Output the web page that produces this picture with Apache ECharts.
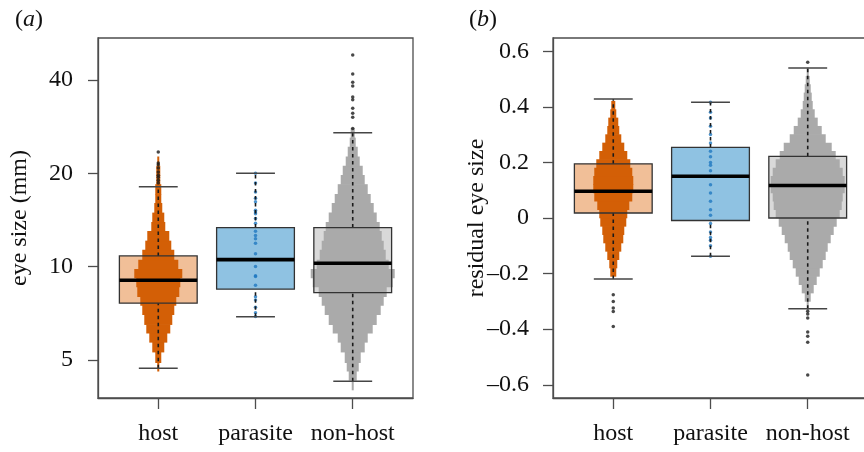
<!DOCTYPE html>
<html><head><meta charset="utf-8">
<script src="https://cdn.jsdelivr.net/npm/echarts@6/dist/echarts.min.js"></script>
<style>html,body{margin:0;padding:0;background:#fff}#c{width:864px;height:452px}</style>
</head><body><div id="c"></div>
<script>
// ---------------- data ----------------
const categories = ['host', 'parasite', 'non-host'];
const ticksA = [5, 10, 20, 40];
const ticksB = [-0.6, -0.4, -0.2, 0, 0.2, 0.4, 0.6];
const rangeA = [3.77, 54.6];
const rangeB = [-0.6475, 0.6475];

// box stats: [lower whisker, Q1, median, Q3, upper whisker]
const hostBoxA = [4.70, 7.62, 9.04, 10.83, 18.1];
const parasiteBoxA = [6.89, 8.46, 10.53, 13.36, 20.0];
const nonHostBoxA = [4.27, 8.24, 10.25, 13.36, 27.0];
const hostBoxB = [-0.219, 0.018, 0.096, 0.195, 0.428];
const parasiteBoxB = [-0.138, -0.009, 0.150, 0.254, 0.416];
const nonHostBoxB = [-0.326, 0.0, 0.117, 0.222, 0.540];

// outliers
const hostOutA = [23.4, 21.6, 21.3, 20.8, 20.2, 19.7, 19.4, 19.0, 18.6];
const nonHostOutA = [48.1, 41.8, 39.3, 38.2, 35.2, 34.5, 32.4, 31.2, 30.3, 27.9];
const hostOutB = [-0.276, -0.300, -0.324, -0.336, -0.390];
const nonHostOutB = [0.560, -0.335, -0.345, -0.360, -0.410, -0.425, -0.447, -0.565];

// parasite individual points
const parasiteA = [20.0, 18.6, 17.4, 16.6, 16.2, 15.2, 15.0, 14.8, 14.3, 13.8, 13.0, 12.6, 12.3, 11.9, 11.0, 10.0, 9.35, 9.3, 8.7, 8.0, 7.8, 7.4, 7.1, 6.9];
const parasiteB = [0.416, 0.38, 0.36, 0.33, 0.30, 0.27, 0.24, 0.22, 0.20, 0.19, 0.17, 0.15, 0.12, 0.09, 0.06, 0.03, 0.01, -0.02, -0.05, -0.07, -0.08, -0.10, -0.138];

// beeswarm rows: bin edges and number of points per row
const rowEdgesA = [4.0, 4.3, 4.6, 4.9, 5.3, 5.7, 6.1, 6.5, 7.0, 7.5, 8.0, 8.6, 9.2, 9.8, 10.5, 11.3, 12.1, 13.0, 13.9, 14.9, 16.0, 17.1, 18.4, 19.7, 21.1, 22.6, 24.3, 26.0, 27.9];
const hostRowsA = [0, 0, 1, 3, 6, 9, 12, 14, 16, 18, 21, 22, 24, 20, 16, 13, 11, 7, 6, 4, 3, 3, 2, 2, 1, 0, 0, 0];
const nonHostRowsA = [1, 4, 6, 8, 12, 15, 20, 24, 28, 31, 34, 40, 42, 36, 33, 31, 29, 27, 24, 21, 18, 15, 12, 10, 7, 5, 3, 2];
const rowEdgesB = [-0.33, -0.30, -0.27, -0.24, -0.21, -0.18, -0.15, -0.12, -0.09, -0.06, -0.03, 0, 0.03, 0.06, 0.09, 0.12, 0.15, 0.18, 0.21, 0.24, 0.27, 0.30, 0.33, 0.36, 0.39, 0.42, 0.45, 0.48, 0.51, 0.54, 0.57];
const hostRowsB = [0, 0, 0, 0, 3, 4, 6, 8, 10, 11, 13, 14, 16, 19, 20, 20, 19, 17, 14, 11, 8, 6, 5, 3, 2, 0, 0, 0, 0, 0];
const nonHostRowsB = [1, 3, 6, 9, 12, 15, 18, 20, 23, 26, 29, 32, 34, 35, 37, 37, 35, 32, 28, 24, 18, 14, 10, 7, 5, 4, 3, 2, 1, 0];

// ---------------- styles ----------------
const FONT = 'Liberation Serif';
const FS = 24;
const BOX_HALF = 0.4, CAP_HALF = 0.2, DOT_PX = 2;
const boxFill = ['#f1bf98', '#8fc2e2', '#d9d9d9'];
const swarmCol = ['#d35f06', '#1f78c1', '#aaaaaa'];
const frameCol = '#4d4d4d';

const tA = v => Math.log2(v);
const tB = v => v;

function panel(gi, t, boxes, swarms, edges, outs, parasite) {
  const boxData = boxes.map((b, i) => [i + 1].concat(b.map(t)));
  const fillSeries = {
    type: 'custom', xAxisIndex: gi, yAxisIndex: gi, z: 1, silent: true,
    data: boxData,
    renderItem: (params, api) => {
      const x = api.value(0);
      const a = api.coord([x - BOX_HALF, api.value(4)]);
      const b = api.coord([x + BOX_HALF, api.value(2)]);
      return { type: 'rect', shape: { x: a[0], y: a[1], width: b[0] - a[0], height: b[1] - a[1] },
        style: { fill: boxFill[params.dataIndex] } };
    }
  };
  const swarmData = [];
  swarms.forEach((rows, k) => {
    if (!rows) return;
    rows.forEach((c, r) => {
      if (c > 0) swarmData.push([k + 1, t(edges[r]), t(edges[r + 1]), c, k]);
    });
  });
  const swarmSeries = {
    type: 'custom', xAxisIndex: gi, yAxisIndex: gi, z: 2, silent: true,
    data: swarmData,
    renderItem: (params, api) => {
      const top = api.coord([api.value(0), api.value(2)]);
      const bot = api.coord([api.value(0), api.value(1)]);
      const hw = api.value(3) * DOT_PX / 2;
      return { type: 'rect', shape: { x: top[0] - hw, y: top[1] - 0.3, width: hw * 2, height: bot[1] - top[1] + 0.6 },
        style: { fill: swarmCol[api.value(4)] } };
    }
  };
  const lineSeries = {
    type: 'custom', xAxisIndex: gi, yAxisIndex: gi, z: 4, silent: true,
    data: boxData,
    renderItem: (params, api) => {
      const x = api.value(0);
      const c = v => api.coord([x, v]);
      const lw = c(api.value(1)), q1 = c(api.value(2)), md = c(api.value(3)), q3 = c(api.value(4)), uw = c(api.value(5));
      const l = api.coord([x - BOX_HALF, 0])[0], r = api.coord([x + BOX_HALF, 0])[0];
      const cl = api.coord([x - CAP_HALF, 0])[0], cr = api.coord([x + CAP_HALF, 0])[0];
      const dash = { stroke: '#1a1a1a', lineWidth: 1.6, lineDash: [3.5, 3.5] };
      const cap = { stroke: '#454545', lineWidth: 1.5 };
      return { type: 'group', children: [
        { type: 'line', shape: { x1: lw[0], y1: lw[1], x2: q1[0], y2: q1[1] }, style: dash },
        { type: 'line', shape: { x1: q3[0], y1: q3[1], x2: uw[0], y2: uw[1] }, style: dash },
        { type: 'line', shape: { x1: cl, y1: lw[1], x2: cr, y2: lw[1] }, style: cap },
        { type: 'line', shape: { x1: cl, y1: uw[1], x2: cr, y2: uw[1] }, style: cap },
        { type: 'rect', shape: { x: l, y: q3[1], width: r - l, height: q1[1] - q3[1] }, style: { fill: 'none', stroke: '#333', lineWidth: 1.3 } },
        { type: 'line', shape: { x1: l, y1: md[1], x2: r, y2: md[1] }, style: { stroke: '#000', lineWidth: 3.6 } }
      ] };
    }
  };
  const pointSeries = {
    type: 'scatter', xAxisIndex: gi, yAxisIndex: gi, z: 3, silent: true,
    symbolSize: 3.5, itemStyle: { color: swarmCol[1] },
    data: parasite.map(v => [2, t(v)])
  };
  const outData = [];
  outs.forEach((arr, k) => arr.forEach(v => outData.push([k + 1, t(v)])));
  const outSeries = {
    type: 'scatter', xAxisIndex: gi, yAxisIndex: gi, z: 5, silent: true,
    symbolSize: 3.5, itemStyle: { color: '#1a1a1a' },
    data: outData
  };
  return [fillSeries, swarmSeries, pointSeries, lineSeries, outSeries];
}

const seriesA = panel(0, tA, [hostBoxA, parasiteBoxA, nonHostBoxA], [hostRowsA, null, nonHostRowsA], rowEdgesA, [hostOutA, [], nonHostOutA], parasiteA);
const seriesB = panel(1, tB, [hostBoxB, parasiteBoxB, nonHostBoxB], [hostRowsB, null, nonHostRowsB], rowEdgesB, [hostOutB, [], nonHostOutB], parasiteB);

const labelStyle = { fontFamily: FONT, fontSize: FS, color: '#111' };
function xAx(gi) {
  return {
    type: 'value', gridIndex: gi, min: 0.38, max: 3.62,
    axisLine: { show: true, onZero: false, lineStyle: { color: frameCol, width: 1.3 } },
    splitLine: { show: false },
    axisTick: { show: true, customValues: [1, 2, 3], length: 11, lineStyle: { color: frameCol, width: 1.3 } },
    axisLabel: Object.assign({ customValues: [1, 2, 3], margin: 24, formatter: v => categories[Math.round(v) - 1] }, labelStyle)
  };
}
const fmtB = v => Math.abs(v) < 1e-9 ? '0' : (v < 0 ? '\u2013' : '') + Math.abs(v).toFixed(1);

const option = {
  animation: false,
  backgroundColor: '#fff',
  grid: [
    { left: 98, top: 38, width: 315, height: 360, show: true, borderColor: frameCol, borderWidth: 1.3, backgroundColor: 'transparent', containLabel: false, outerBoundsMode: 'none' },
    { left: 553, top: 38, width: 315, height: 360, show: true, borderColor: frameCol, borderWidth: 1.3, backgroundColor: 'transparent', containLabel: false, outerBoundsMode: 'none' }
  ],
  xAxis: [xAx(0), xAx(1)],
  yAxis: [
    {
      type: 'value', gridIndex: 0, min: tA(rangeA[0]), max: tA(rangeA[1]),
      axisLine: { show: true, onZero: false, lineStyle: { color: frameCol, width: 1.3 } },
      splitLine: { show: false },
      axisTick: { show: true, customValues: ticksA.map(tA), length: 10, lineStyle: { color: frameCol, width: 1.3 } },
      axisLabel: Object.assign({ customValues: ticksA.map(tA), margin: 25, formatter: v => String(Math.round(Math.pow(2, v))) }, labelStyle)
    },
    {
      type: 'value', gridIndex: 1, min: rangeB[0], max: rangeB[1],
      axisLine: { show: true, onZero: false, lineStyle: { color: frameCol, width: 1.3 } },
      splitLine: { show: false },
      axisTick: { show: true, customValues: ticksB, length: 10, lineStyle: { color: frameCol, width: 1.3 } },
      axisLabel: Object.assign({ customValues: ticksB, margin: 24, formatter: fmtB }, labelStyle)
    }
  ],
  graphic: [
    { type: 'text', x: 15, y: 20, style: { text: '({i|a})', font: FS + 'px "' + FONT + '"', fill: '#111', textVerticalAlign: 'middle', verticalAlign: 'middle',
      rich: { i: { fontStyle: 'italic', fontFamily: FONT, fontSize: FS } } } },
    { type: 'text', x: 469, y: 20, style: { text: '({i|b})', font: FS + 'px "' + FONT + '"', fill: '#111', textVerticalAlign: 'middle', verticalAlign: 'middle',
      rich: { i: { fontStyle: 'italic', fontFamily: FONT, fontSize: FS } } } },
    { type: 'text', x: 20, y: 218, rotation: Math.PI / 2, style: { text: 'eye size (mm)', font: FS + 'px "' + FONT + '"', fill: '#111', textAlign: 'center', align: 'center', textVerticalAlign: 'middle', verticalAlign: 'middle' } },
    { type: 'text', x: 477, y: 218, rotation: Math.PI / 2, style: { text: 'residual eye size', font: FS + 'px "' + FONT + '"', fill: '#111', textAlign: 'center', align: 'center', textVerticalAlign: 'middle', verticalAlign: 'middle' } }
  ],
  series: seriesA.concat(seriesB)
};
const chart = echarts.init(document.getElementById('c'), null, { renderer: 'canvas' });
chart.setOption(option);
</script>
</body></html>
